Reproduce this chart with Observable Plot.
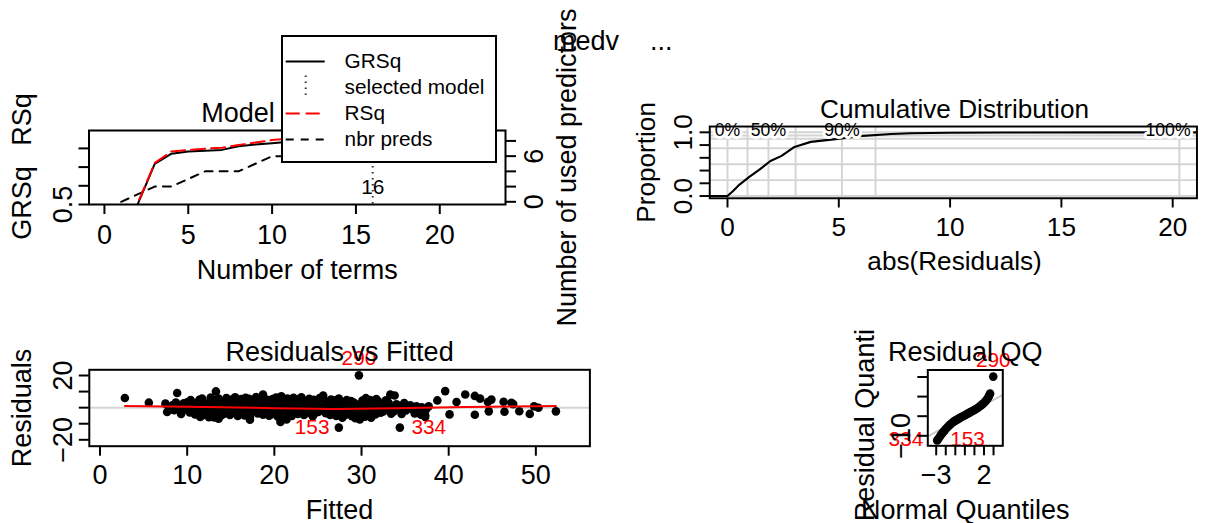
<!DOCTYPE html>
<html><head><meta charset="utf-8">
<script src="https://cdn.jsdelivr.net/npm/d3@7"></script>
<script src="https://cdn.jsdelivr.net/npm/@observablehq/plot@0.6"></script>
<style>
html,body{margin:0;padding:0;background:#fff;overflow:hidden;}
#page{position:relative;width:1212px;height:523px;overflow:hidden;background:#fff;font-family:"Liberation Sans",Arial,Helvetica,sans-serif;}
.panel{position:absolute;}
.panel svg{overflow:hidden;display:block;}
.free{position:absolute;font-size:27px;line-height:27px;white-space:pre;color:#000;}
</style></head><body><div id="page"></div>
<script>
// ---------------- data: Model Selection ----------------
const nTerms   = [1,2,3,4,5,6,7,8,9,10,11,12,13,14,15,16,17,18,19,20,21,22,23];
const grsq     = [0,0.505,0.717,0.772,0.783,0.788,0.792,0.812,0.821,0.828,0.835,0.840,0.845,0.849,0.852,0.855,0.854,0.853,0.852,0.850,0.848,0.846,0.844];
const rsq      = [0,0.510,0.722,0.784,0.792,0.798,0.804,0.818,0.831,0.845,0.852,0.858,0.863,0.868,0.872,0.876,0.879,0.882,0.884,0.886,0.888,0.889,0.890];
const nbrPreds = [0,1,2,2,3,4,4,4,5,6,6,7,7,8,8,9,9,9,9,9,9,9,9];
const selectedTerms = 16;
const legendLabels = ["GRSq","selected model","RSq","nbr preds"];
const termTicks = [0,5,10,15,20];
const grsqTicks = [0.5,0.6,0.7,0.8];
const grsqTickLabels = [0.5];
const predTicks = [0,2,4,6,8];
const predTickLabels = [0,6];

// ---------------- data: Cumulative Distribution ----------------
const cdfAbsResid   = [-0.8,0,0.25,0.54,0.98,1.42,1.93,2.43,3.01,3.74,4.76,5.92,7.37,8.24,10.0,12.5,20.3,21.5];
const cdfProportion = [0,0,0.08,0.18,0.30,0.41,0.55,0.63,0.77,0.85,0.89,0.94,0.974,0.985,0.993,0.998,1.0,1.0];
const quantileNames  = ["0%","25%","50%","75%","90%","95%","100%"];
const quantileValues = [0,0.9,1.84,3.06,5.14,6.65,20.3];
const proportionLevels = [0,0.25,0.5,0.75,0.9,0.95,1];
const shownQuantiles = ["0%","50%","90%"];
const edgeQuantile = "100%";
const absTicks = [0,5,10,15,20];
const propTicks = [0,0.2,0.4,0.6,0.8,1.0];
const propTickLabels = [0,1];

// ---------------- data: Residuals vs Fitted ----------------
const residPoints = [
[2.85,6.0],[5.6,3.1],[7.5,2.5],[7.7,-2.7],[7.9,0.4],[8.3,1.4],[8.5,-1.6],[8.85,9.1],[8.7,3.2],
[9.2,0.9],[9.4,-2.3],[9.6,2.7],[9.3,-3.9],[9.9,1.7],[10.1,-0.5],[10.0,3.4],[10.3,-3.0],[10.4,4.7],
[10.6,0.2],[10.8,2.4],[10.7,-1.9],[10.9,-4.2],[11.0,1.1],[11.2,3.1],[11.3,-0.9],[11.1,1.6],[11.5,-3.3],[11.5,-5.8],[11.4,4.9],
[11.8,0.4],[11.9,2.9],[12.0,-2.4],[11.7,5.6],[12.1,-1.2],[11.9,-4.6],[12.2,1.9],
[12.4,1.5],[12.5,-0.3],[12.6,3.8],[12.3,-2.8],[12.7,6.3],[12.5,-5.9],[12.8,0.9],
[13.0,2.2],[13.1,-1.6],[12.9,4.4],[13.2,-3.6],[13.0,0.6],[13.1,-6.1],[13.3,10.1],[13.4,5.1],
[13.6,1.1],[13.7,3.2],[13.5,-0.8],[13.8,-2.5],[13.6,5.7],[13.9,-4.8],[13.6,-6.9],
[14.2,0.3],[14.1,2.6],[14.3,-1.9],[14.4,4.1],[14.2,-3.9],[14.5,6.0],[14.0,1.7],[14.6,-0.9],
[14.8,1.9],[14.9,-0.5],[15.0,3.6],[14.7,-2.8],[15.1,5.0],[14.9,-4.6],[15.2,0.8],
[15.4,2.8],[15.5,0.1],[15.3,-1.4],[15.6,4.7],[15.7,-3.3],[15.5,6.4],[15.8,-5.2],[15.4,1.5],
[16.0,0.6],[16.1,3.4],[15.9,-2.1],[16.2,5.3],[16.3,-0.7],[16.1,-4.0],[16.4,2.2],
[16.6,1.4],[16.7,-1.1],[16.5,4.2],[16.8,-2.9],[16.9,0.2],[16.7,6.1],[16.6,-4.9],[17.0,2.9],
[17.2,2.5],[17.3,-0.4],[17.1,5.5],[17.4,-2.3],[17.2,-5.9],[17.2,-7.5],[17.5,0.9],[17.6,3.7],
[17.8,0.0],[17.9,2.0],[17.7,-1.8],[18.0,4.5],[18.1,-3.6],[17.9,6.6],[18.2,1.3],
[18.4,1.7],[18.5,-0.9],[18.3,3.3],[18.6,-2.6],[18.4,5.8],[18.7,-4.4],[18.5,0.5],[18.7,8.1],
[19.0,2.4],[19.1,0.3],[18.9,-1.5],[19.2,4.9],[19.3,-3.2],[19.1,1.2],[19.4,-5.0],
[19.6,0.9],[19.7,3.0],[19.5,-2.2],[19.8,5.4],[19.9,-0.6],[19.7,-4.1],[20.0,2.1],
[20.2,1.6],[20.3,-1.2],[20.1,4.0],[20.4,-3.0],[20.2,6.3],[20.5,0.1],[20.4,-5.6],
[20.7,-8.9],[20.8,2.7],[20.6,-0.3],[20.8,7.0],[20.9,-2.0],[21.0,4.8],[20.7,-4.6],
[21.3,0.8],[21.4,3.5],[21.2,-1.8],[21.5,5.7],[21.6,-3.6],[21.3,1.9],[21.4,-7.3],
[21.9,2.3],[22.0,-0.7],[21.8,4.3],[22.1,-2.7],[22.2,6.1],[21.9,0.4],[22.0,-5.1],
[22.5,1.2],[22.6,-1.5],[22.4,3.1],[22.7,-3.9],[22.8,5.2],[22.5,-0.2],[22.9,2.5],
[23.1,0.6],[23.2,2.9],[23.0,-2.4],[23.3,4.6],[23.4,-4.5],[23.1,6.4],[23.5,-0.9],
[23.7,1.8],[23.8,-1.1],[23.6,3.7],[23.9,-3.2],[24.0,5.5],[23.8,0.3],
[24.3,0.2],[24.4,2.5],[24.2,-2.0],[24.5,4.9],[24.6,-3.8],[24.3,1.4],[24.4,-5.4],
[24.9,1.5],[25.0,-0.6],[24.8,3.4],[25.1,-2.6],[25.2,6.0],[25.0,0.7],
[25.6,7.6],[25.7,2.0],[25.5,-1.3],[25.8,4.2],[25.9,-3.5],[25.6,0.5],
[26.2,0.9],[26.3,-2.2],[26.1,3.0],[26.4,-4.6],[26.5,5.1],[26.2,-0.8],[26.6,1.8],
[26.8,-0.4],[26.9,2.4],[26.7,-3.0],[27.0,4.5],[27.1,-5.2],[26.8,1.1],
[27.4,-12.4],[27.5,0.6],[27.3,-1.9],[27.6,3.3],[27.7,-3.9],[27.4,5.6],[27.8,-6.3],
[28.0,1.4],[28.1,-1.0],[27.9,2.6],[28.2,-4.4],[28.3,4.8],[28.0,-2.8],
[28.6,0.2],[28.7,2.1],[28.5,-2.5],[28.8,4.1],[28.9,-5.3],[28.6,-0.9],
[29.2,1.0],[29.3,-1.6],[29.1,3.2],[29.4,-3.4],[29.3,-6.6],[29.2,0.5],
[29.7,20.1],[29.8,-0.3],[29.6,2.0],[29.9,-4.0],[29.8,-7.4],
[30.2,1.8],[30.3,-2.1],[30.1,4.4],[30.4,-5.6],[30.2,0.3],[30.5,5.9],
[30.8,-0.8],[30.9,2.6],[30.7,-3.2],[31.0,4.8],[31.1,-6.3],[30.8,1.2],
[31.4,0.6],[31.5,-2.0],[31.3,3.5],[31.6,-4.2],[31.7,5.3],
[32.0,1.5],[32.1,-1.1],[31.9,3.9],[32.2,-3.1],[32.3,0.1],
[32.6,-0.5],[32.7,2.2],[32.5,-2.4],[32.8,4.6],
[33.2,0.9],[33.3,-1.6],[33.1,3.0],[33.4,-3.7],[33.3,8.1],
[33.8,7.6],[33.9,0.3],[33.7,-2.3],[34.0,2.1],
[34.4,-12.4],[34.5,1.2],[34.3,-0.9],[34.6,-3.9],
[35.0,0.5],[35.1,-1.8],[34.9,2.8],
[35.6,1.4],[35.7,-0.6],
[36.2,-2.7],[36.3,0.9],[36.1,-3.6],
[36.8,-4.4],[36.9,0.2],
[37.3,-4.8],[37.3,-5.8],[37.4,-1.2],
[37.7,0.8],[38.7,4.5],[39.6,10.3],[40.1,-4.2],[40.9,3.5],[41.9,8.2],[43.0,7.3],[43.0,-4.4],[43.6,5.6],[44.5,3.5],
[44.6,-2.3],[44.9,5.0],[46.3,3.7],[46.4,-2.5],[47.2,3.0],[47.4,2.2],[48.1,-2.2],[49.3,-3.9],[49.8,0.8],[50.3,-0.1],[52.3,-2.3]
];
const smoothFitted = [2.85,10,20,27,34,42,52.3];
const smoothResid  = [1.0,0.5,-0.3,-0.9,-0.3,0.4,1.0];
const outlierIds    = ["290","153","334"];
const outlierFitted = [29.7,27.4,34.4];
const outlierResid  = [20.1,-12.4,-12.4];
const fittedTicks = [0,10,20,30,40,50];
const residTicks = [-20,-10,0,10,20];
const residTickLabels = [-20,20];

// ---------------- data: Residual QQ ----------------
const qqNormal = [-2.90,-2.85,-2.70,-2.55,-2.40,-2.25,-2.10,-1.95,-1.80,-1.65,-1.50,-1.35,-1.20,-1.05,-0.90,-0.75,-0.60,-0.45,-0.30,-0.15,0.00,0.15,0.30,0.45,0.60,0.75,0.90,1.05,1.20,1.35,1.50,1.65,1.80,1.95,2.10,2.25,2.40,2.50,2.58,2.64,2.97];
const qqResid  = [-12.4,-12.0,-11.0,-9.9,-8.9,-8.0,-7.1,-6.3,-5.5,-4.8,-4.1,-3.5,-2.9,-2.4,-2.0,-1.6,-1.1,-0.7,-0.3,0.1,0.5,0.9,1.3,1.7,2.1,2.5,2.9,3.3,3.8,4.2,4.8,5.3,5.9,6.6,7.3,8.2,9.2,10.0,10.9,11.6,20.2];
const qqLineNormal = [-3.88,3.97];
const qqLineResid  = [-10.3,10.9];
const qqIds = ["334","153","290"];
const qqIdIndex = [0,0,40];
const normTicks = [-3,-2,-1,0,1,2,3];
const normTickLabels = [-3,2];
const qqResidTicks = [-10,0,10,20];
const qqResidTickLabels = [-10];

// ---------------- helpers ----------------
const FONT = '"Liberation Sans", Arial, Helvetica, sans-serif';
const BIG = 27, SMALL = 20.8, TINY = 18.2;
const page = document.getElementById("page");
const fmtNum = d => d < 0 ? "\u2212" + Math.abs(d) : String(d);
const baseStyle = {fontFamily: FONT, fontSize: BIG + "px", background: "transparent", overflow: "hidden", color: "black"};
function place(node, left, top) {
  const d = document.createElement("div");
  d.className = "panel"; d.style.left = left + "px"; d.style.top = top + "px";
  d.appendChild(node); page.appendChild(d); return d;
}
function freeText(t, left, top) {
  const d = document.createElement("div");
  d.className = "free"; d.textContent = t; d.style.left = left + "px"; d.style.top = top + "px";
  page.appendChild(d);
}
const ax = (o) => Object.assign({tickSize: 10, strokeWidth: 2, tickFormat: () => "", label: null}, o);
const vert = {rotate: -90, lineAnchor: "bottom", textAnchor: "middle"};
const lbl = (o) => Object.assign({}, vert, o);

// ---------------- Panel 1: Model Selection ----------------
const yL = [0.5, 0.8957];
const yR = [-0.355, 9.37];
const toLeft = n => yL[0] + (n - yR[0]) * (yL[1] - yL[0]) / (yR[1] - yR[0]);
const msData = nTerms.map((t, i) => ({t, grsq: grsq[i], rsq: rsq[i], preds: toLeft(nbrPreds[i])}));

const p1 = Plot.plot({
  width: 606, height: 330, marginLeft: 88.5, marginTop: 130, marginRight: 101, marginBottom: 126,
  style: baseStyle,
  x: {domain: [-0.92, 23.92], axis: null},
  y: {domain: yL, axis: null},
  marks: [
    Plot.ruleX([selectedTerms], {x: d => d, stroke: "#333", strokeWidth: 2, strokeDasharray: "1.5,4.5"}),
    Plot.line(msData, {x: "t", y: "preds", stroke: "black", strokeWidth: 2, strokeDasharray: "8,7", clip: true}),
    Plot.line(msData, {x: "t", y: "grsq", stroke: "black", strokeWidth: 2, clip: true}),
    Plot.line(msData, {x: "t", y: "rsq", stroke: "red", strokeWidth: 2, strokeDasharray: "14,6", clip: true}),
    Plot.text([selectedTerms], {x: d => d, frameAnchor: "bottom", dy: -10.7, lineAnchor: "bottom", textAnchor: "middle", text: d => String(d), fontSize: SMALL}),
    Plot.frame({stroke: "black", strokeWidth: 2}),
    Plot.axisX(ax({ticks: termTicks})),
    Plot.text(termTicks, {x: d => d, frameAnchor: "bottom", dy: 39.3, lineAnchor: "bottom", textAnchor: "middle", text: d => fmtNum(d)}),
    Plot.text(["Number of terms"], {frameAnchor: "bottom", dy: 74.3, lineAnchor: "bottom", textAnchor: "middle", text: d => d}),
    Plot.text(["Model Selection"], {frameAnchor: "top", dy: -8.5, lineAnchor: "bottom", textAnchor: "middle", text: d => d}),
    Plot.axisY(ax({ticks: grsqTicks})),
    Plot.text(grsqTickLabels, lbl({y: d => d, frameAnchor: "left", dx: -16.8, text: d => d.toFixed(1)})),
    Plot.text(["GRSq"], lbl({frameAnchor: "left", dx: -58.5, dy: 35.5, text: d => d})),
    Plot.text(["RSq"], lbl({frameAnchor: "left", dx: -58.5, dy: -48, text: d => d})),
    Plot.axisY(ax({anchor: "right", ticks: predTicks.map(toLeft)})),
    Plot.text(predTickLabels, lbl({y: d => toLeft(d), frameAnchor: "right", dx: 37, text: d => String(d)})),
    Plot.text(["Number of used predictors"], lbl({frameAnchor: "right", dx: 70, text: d => d}))
  ]
});
place(p1, 0, 0);

// legend
const legendRows = legendLabels.map((label, i) => ({label, row: i}));
const lg = Plot.plot({
  width: 211.4, height: 124.3, marginLeft: 2.7, marginRight: 169.7, marginTop: 24, marginBottom: 22.3,
  style: Object.assign({}, baseStyle, {fontSize: SMALL + "px"}),
  x: {domain: [0, 1], axis: null},
  y: {domain: [legendLabels.length - 1, 0], axis: null},
  marks: [
    Plot.ruleY(legendRows.filter(d => d.label === "GRSq"), {y: "row", x1: 0, x2: 1, stroke: "black", strokeWidth: 2}),
    Plot.ruleY(legendRows.filter(d => d.label === "RSq"), {y: "row", x1: 0, x2: 1, stroke: "red", strokeWidth: 2, strokeDasharray: "14,6"}),
    Plot.ruleY(legendRows.filter(d => d.label === "nbr preds"), {y: "row", x1: 0, x2: 1, stroke: "black", strokeWidth: 2, strokeDasharray: "8,7"}),
    Plot.ruleX(legendRows.filter(d => d.label === "selected model"), {x: 0.5, y1: d => d.row - 0.44, y2: d => d.row + 0.44, stroke: "#333", strokeWidth: 2, strokeDasharray: "1.5,4.5"}),
    Plot.text(legendRows, {y: "row", text: "label", frameAnchor: "right", dx: 19.4, textAnchor: "start", lineAnchor: "middle"})
  ]
});
const lgBox = place(lg, 281.3, 35);
Object.assign(lgBox.style, {border: "2px solid black", background: "white", width: "211.4px", height: "124.3px"});

// ---------------- Panel 2: Cumulative Distribution ----------------
const cdfData = cdfAbsResid.map((a, i) => ({a, p: cdfProportion[i]}));
const qData = quantileNames.map((name, i) => ({name, v: quantileValues[i]}));
const pctStyle = {frameAnchor: "top", dy: 10, lineAnchor: "bottom", textAnchor: "middle", fontSize: TINY, fill: "black", stroke: "white", strokeWidth: 6, paintOrder: "stroke", strokeLinejoin: "round"};
const p2 = Plot.plot({
  width: 625, height: 330, marginLeft: 106.5, marginTop: 130, marginRight: 16, marginBottom: 126,
  style: baseStyle,
  x: {domain: [-0.797, 21.09], axis: null},
  y: {domain: [-0.035, 1.091], axis: null},
  marks: [
    Plot.ruleX(qData, {x: "v", stroke: "#d4d4d4", strokeWidth: 2}),
    Plot.ruleY(proportionLevels, {y: d => d, stroke: "#d4d4d4", strokeWidth: 2}),
    Plot.line(cdfData, {x: "a", y: "p", stroke: "black", strokeWidth: 2.2, clip: true}),
    Plot.text(qData.filter(d => shownQuantiles.includes(d.name)), Object.assign({x: "v", text: "name"}, pctStyle)),
    Plot.text(qData.filter(d => d.name === edgeQuantile), Object.assign({x: "v", text: "name", dx: -11.7}, pctStyle)),
    Plot.frame({stroke: "black", strokeWidth: 2}),
    Plot.axisX(ax({ticks: absTicks})),
    Plot.text(absTicks, {x: d => d, frameAnchor: "bottom", dy: 39.3, lineAnchor: "bottom", textAnchor: "middle", text: d => fmtNum(d)}),
    Plot.text(["abs(Residuals)"], {x: 10.2, frameAnchor: "bottom", dy: 74.3, lineAnchor: "bottom", textAnchor: "middle", text: d => d}),
    Plot.text(["Cumulative Distribution"], {x: 10.2, frameAnchor: "top", dy: -8.5, lineAnchor: "bottom", textAnchor: "middle", text: d => d}),
    Plot.axisY(ax({ticks: propTicks})),
    Plot.text(propTickLabels, lbl({y: d => d, frameAnchor: "left", dx: -18, text: d => d.toFixed(1)})),
    Plot.text(["Proportion"], lbl({frameAnchor: "left", dx: -56.5, text: d => d}))
  ]
});
place(p2, 606, 0);

// ---------------- Panel 3: Residuals vs Fitted ----------------
const rvData = residPoints.map(([f, r]) => ({f, r}));
const smooth = smoothFitted.map((f, i) => ({f, r: smoothResid[i]}));
const outliers = outlierIds.map((id, i) => ({id, f: outlierFitted[i], r: outlierResid[i]}));
const redText = {fill: "red", fontSize: SMALL, lineAnchor: "bottom"};
const p3 = Plot.plot({
  width: 606, height: 193, marginLeft: 88.8, marginTop: 39.3, marginRight: 16.6, marginBottom: 77.3,
  style: baseStyle,
  x: {domain: [-1.23, 56.2], axis: null},
  y: {domain: [-23.98, 23.55], axis: null},
  marks: [
    Plot.ruleY([0], {y: d => d, stroke: "#d4d4d4", strokeWidth: 2}),
    Plot.dot(rvData, {x: "f", y: "r", r: 4.3, fill: "black", stroke: null, clip: true}),
    Plot.line(smooth, {x: "f", y: "r", stroke: "red", strokeWidth: 2}),
    Plot.text(outliers.filter(d => d.id === "290"), Object.assign({x: "f", y: "r", text: "id", dy: -9.9, textAnchor: "middle"}, redText)),
    Plot.text(outliers.filter(d => d.id === "153"), Object.assign({x: "f", y: "r", text: "id", dx: -9.4, dy: 6, textAnchor: "end"}, redText)),
    Plot.text(outliers.filter(d => d.id === "334"), Object.assign({x: "f", y: "r", text: "id", dx: 11.5, dy: 6, textAnchor: "start"}, redText)),
    Plot.frame({stroke: "black", strokeWidth: 2}),
    Plot.axisX(ax({ticks: fittedTicks})),
    Plot.text(fittedTicks, {x: d => d, frameAnchor: "bottom", dy: 37.6, lineAnchor: "bottom", textAnchor: "middle", text: d => fmtNum(d)}),
    Plot.text(["Fitted"], {frameAnchor: "bottom", dy: 72.6, lineAnchor: "bottom", textAnchor: "middle", text: d => d}),
    Plot.text(["Residuals vs Fitted"], {frameAnchor: "top", dy: -9.3, lineAnchor: "bottom", textAnchor: "middle", text: d => d}),
    Plot.axisY(ax({ticks: residTicks})),
    Plot.text(residTickLabels, lbl({y: d => d, frameAnchor: "left", dx: -17.1, text: d => fmtNum(d)})),
    Plot.text(["Residuals"], lbl({frameAnchor: "left", dx: -58.8, text: d => d}))
  ]
});
place(p3, 0, 330);

// ---------------- Panel 4: Residual QQ ----------------
const qqData = qqNormal.map((q, i) => ({q, r: qqResid[i]}));
const qqLine = qqLineNormal.map((q, i) => ({q, r: qqLineResid[i]}));
const qqLabels = qqIds.map((id, i) => ({id, q: qqNormal[qqIdIndex[i]], r: qqResid[qqIdIndex[i]]}));
const p4 = Plot.plot({
  width: 372, height: 193, marginLeft: 87.3, marginTop: 39.5, marginRight: 209.7, marginBottom: 77.7,
  style: baseStyle,
  x: {domain: [-3.88, 3.97], axis: null},
  y: {domain: [-15.1, 23.56], axis: null},
  marks: [
    Plot.line(qqLine, {x: "q", y: "r", stroke: "#c8c8c8", strokeWidth: 2, clip: true}),
    Plot.dot(qqData, {x: "q", y: "r", r: 4.3, fill: "black", stroke: null}),
    Plot.text(qqLabels.filter(d => d.id === "290"), Object.assign({x: "q", y: "r", text: "id", dy: -9.8, textAnchor: "middle"}, redText)),
    Plot.text(qqLabels.filter(d => d.id === "334"), Object.assign({x: "q", y: "r", text: "id", dx: -13.9, dy: 5.2, textAnchor: "end"}, redText)),
    Plot.text(qqLabels.filter(d => d.id === "153"), Object.assign({x: "q", y: "r", text: "id", dx: 13, dy: 5.2, textAnchor: "start"}, redText)),
    Plot.frame({stroke: "black", strokeWidth: 2}),
    Plot.axisX(ax({ticks: normTicks})),
    Plot.text(normTickLabels, {x: d => d, frameAnchor: "bottom", dy: 38, lineAnchor: "bottom", textAnchor: "middle", text: d => fmtNum(d)}),
    Plot.text(["Normal Quantiles"], {frameAnchor: "bottom", dy: 73, lineAnchor: "bottom", textAnchor: "middle", text: d => d}),
    Plot.text(["Residual QQ"], {frameAnchor: "top", dy: -9.5, lineAnchor: "bottom", textAnchor: "middle", text: d => d}),
    Plot.axisY(ax({ticks: qqResidTicks})),
    Plot.text(qqResidTickLabels, lbl({y: d => d, frameAnchor: "left", dx: -18.3, text: d => fmtNum(d)})),
    Plot.text(["Residual Quantiles"], lbl({frameAnchor: "left", dx: -53.7, text: d => d}))
  ]
});
place(p4, 840, 330);

// ---------------- top caption ----------------
freeText("medv", 553, 28);
freeText("...", 650, 28);
</script></body></html>
